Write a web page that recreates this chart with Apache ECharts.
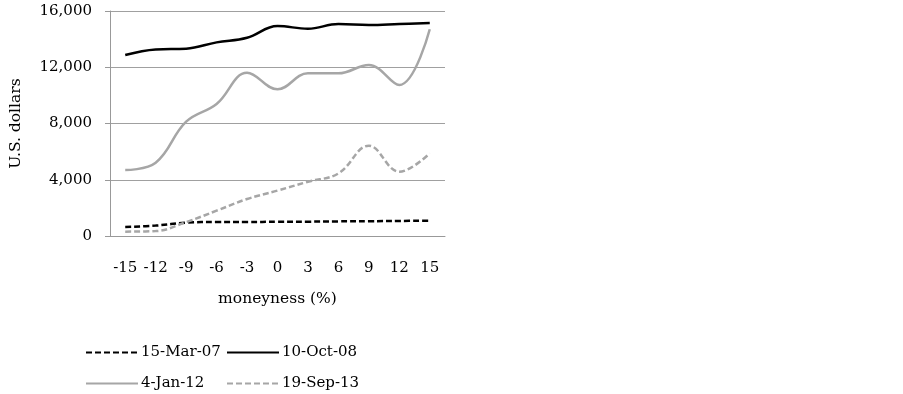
<!DOCTYPE html>
<html><head><meta charset="utf-8">
<script src="https://cdn.jsdelivr.net/npm/echarts@6/dist/echarts.min.js"></script>
<style>html,body{margin:0;padding:0;background:#fff}#c{width:903px;height:394px}</style>
</head><body><div id="c"></div>
<script>
var categories = ['-15','-12','-9','-6','-3','0','3','6','9','12','15'];
var mar07 = [640, 740, 950, 1000, 1000, 1010, 1020, 1040, 1050, 1070, 1090];
var oct08 = [12870, 13270, 13320, 13770, 14100, 14930, 14740, 15070, 15000, 15070, 15140];
var jan12 = [4690, 5210, 8130, 9390, 11610, 10430, 11570, 11570, 12160, 10740, 14700];
var sep13 = [310, 350, 990, 1800, 2630, 3230, 3860, 4450, 6420, 4570, 5880];
var yTicks = [0, 4000, 8000, 12000, 16000];
var names = ['15-Mar-07', '10-Oct-08', '4-Jan-12', '19-Sep-13'];

var FONT = 'DejaVu Serif';
var chart = echarts.init(document.getElementById('c'));
function fmt(v){ return v.toString().replace(/\B(?=(\d{3})+(?!\d))/g, ','); }
function mk(name, data, color, type){
  return {name: name, type: 'line', data: data, smooth: 0.4, symbol: 'none',
    lineStyle: {color: color, width: 2.5, type: type}, itemStyle: {color: color, opacity: 0}};
}
var legendBase = {orient: 'vertical', itemWidth: 52, itemHeight: 14, itemGap: 16, padding: 0,
  itemStyle: {opacity: 0},
  textStyle: {fontFamily: FONT, fontSize: 15, color: '#000', padding: [0,0,0,-2]}};
chart.setOption({
  animation: false,
  grid: {left: 110, right: 458, top: 11, bottom: 158},
  xAxis: {type: 'category', data: categories, boundaryGap: true,
    axisLine: {lineStyle: {color: '#999', width: 1}},
    axisTick: {alignWithLabel: true, length: 5, lineStyle: {color: '#999'}},
    axisLabel: {fontFamily: FONT, fontSize: 15, color: '#000', margin: 25, interval: 0},
    name: 'moneyness (%)', nameLocation: 'middle', nameGap: 55,
    nameTextStyle: {fontFamily: FONT, fontSize: 15.5, color: '#000'}},
  yAxis: {type: 'value', min: yTicks[0], max: yTicks[yTicks.length-1], interval: 4000,
    axisLine: {show: true, lineStyle: {color: '#999', width: 1}},
    axisTick: {show: true, length: 5, lineStyle: {color: '#999'}},
    splitLine: {lineStyle: {color: '#a0a0a0', width: 1}},
    axisLabel: {fontFamily: FONT, fontSize: 15, color: '#000', margin: 18, formatter: fmt},
    name: 'U.S. dollars', nameLocation: 'middle', nameGap: 86, nameRotate: 90,
    nameTextStyle: {fontFamily: FONT, fontSize: 15.5, color: '#000'}},
  legend: [
    Object.assign({}, legendBase, {left: 85, top: 345, data: [names[0], names[2]]}),
    Object.assign({}, legendBase, {left: 226, top: 345, data: [names[1], names[3]]})
  ],
  series: [
    mk(names[0], mar07, '#000', [6,3]),
    mk(names[1], oct08, '#000', 'solid'),
    mk(names[2], jan12, '#a6a6a6', 'solid'),
    mk(names[3], sep13, '#a6a6a6', [6,3])
  ]
});
</script></body></html>
